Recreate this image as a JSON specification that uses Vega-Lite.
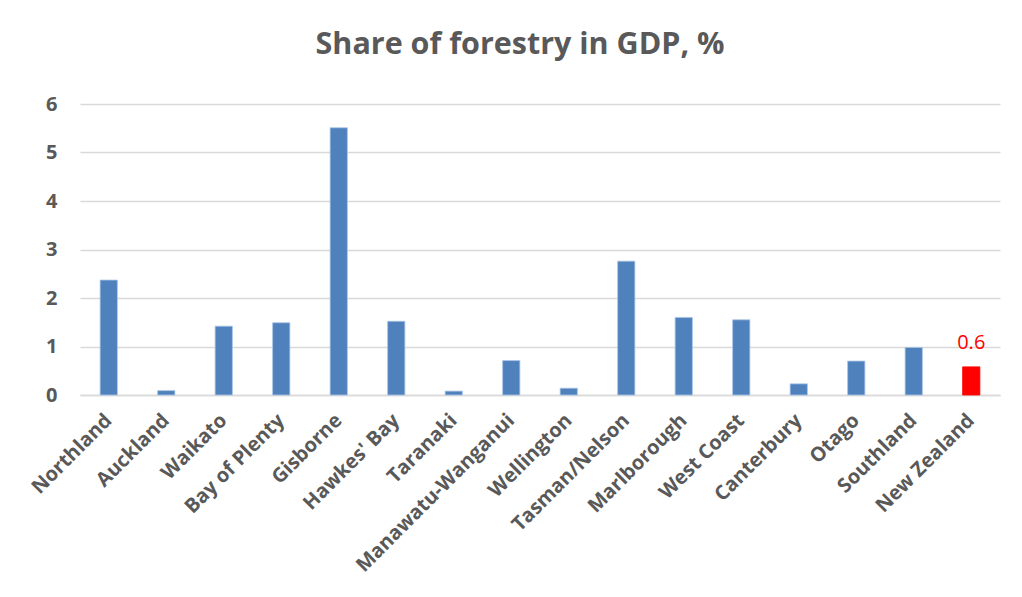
{
  "$schema": "https://vega.github.io/schema/vega-lite/v6.json",
  "width": 920,
  "height": 291,
  "autosize": {"type": "none"},
  "padding": {"left": 80, "top": 104, "right": 22, "bottom": 202},
  "background": "white",
  "title": {
    "text": "Share of forestry in GDP, %",
    "font": "Open Sans",
    "fontSize": 30.5,
    "fontWeight": "bold",
    "color": "#595959",
    "anchor": "middle",
    "dx": -20,
    "offset": 34
  },
  "data": {
    "values": [
      {"region": "Northland", "share": 2.37, "nz": false},
      {"region": "Auckland", "share": 0.09, "nz": false},
      {"region": "Waikato", "share": 1.42, "nz": false},
      {"region": "Bay of Plenty", "share": 1.49, "nz": false},
      {"region": "Gisborne", "share": 5.51, "nz": false},
      {"region": "Hawkes' Bay", "share": 1.52, "nz": false},
      {"region": "Taranaki", "share": 0.08, "nz": false},
      {"region": "Manawatu-Wanganui", "share": 0.71, "nz": false},
      {"region": "Wellington", "share": 0.14, "nz": false},
      {"region": "Tasman/Nelson", "share": 2.76, "nz": false},
      {"region": "Marlborough", "share": 1.6, "nz": false},
      {"region": "West Coast", "share": 1.55, "nz": false},
      {"region": "Canterbury", "share": 0.23, "nz": false},
      {"region": "Otago", "share": 0.7, "nz": false},
      {"region": "Southland", "share": 0.98, "nz": false},
      {"region": "New Zealand", "share": 0.58, "nz": true, "label": "0.6"}
    ]
  },
  "encoding": {
    "x": {
      "field": "region",
      "type": "nominal",
      "sort": null,
      "title": null,
      "scale": {"paddingInner": 0.7, "paddingOuter": 0.35},
      "axis": {
        "labelAngle": -45,
        "labelAlign": "right",
        "labelBaseline": "middle",
        "labelFont": "Open Sans",
        "labelFontSize": 20,
        "labelFontWeight": "bold",
        "labelColor": "#595959",
        "labelPadding": 22,
        "labelLimit": 400,
        "ticks": false,
        "domain": true,
        "domainColor": "#d9d9d9",
        "domainWidth": 1.5,
        "grid": false
      }
    },
    "y": {
      "field": "share",
      "type": "quantitative",
      "title": null,
      "scale": {"domain": [0, 6], "nice": false},
      "axis": {
        "values": [0, 1, 2, 3, 4, 5, 6],
        "format": "d",
        "labelFont": "Open Sans",
        "labelFontSize": 20,
        "labelFontWeight": "bold",
        "labelColor": "#595959",
        "labelPadding": 23,
        "ticks": false,
        "domain": false,
        "grid": true,
        "gridColor": "#d9d9d9",
        "gridWidth": 1.5
      }
    }
  },
  "layer": [
    {
      "mark": {"type": "bar", "strokeWidth": 0.8},
      "encoding": {
        "color": {
          "field": "nz",
          "type": "nominal",
          "scale": {"domain": [false, true], "range": ["#4f81bd", "#ff0000"]},
          "legend": null
        },
        "stroke": {
          "field": "nz",
          "type": "nominal",
          "scale": {"domain": [false, true], "range": ["#a9c4e6", "#ff0000"]},
          "legend": null
        }
      }
    },
    {
      "transform": [{"filter": "datum.nz"}],
      "mark": {"type": "text", "font": "Open Sans", "fontSize": 20, "color": "#ff0000", "dy": -18, "baseline": "alphabetic"},
      "encoding": {"text": {"field": "label"}}
    }
  ],
  "config": {"view": {"stroke": null}}
}
